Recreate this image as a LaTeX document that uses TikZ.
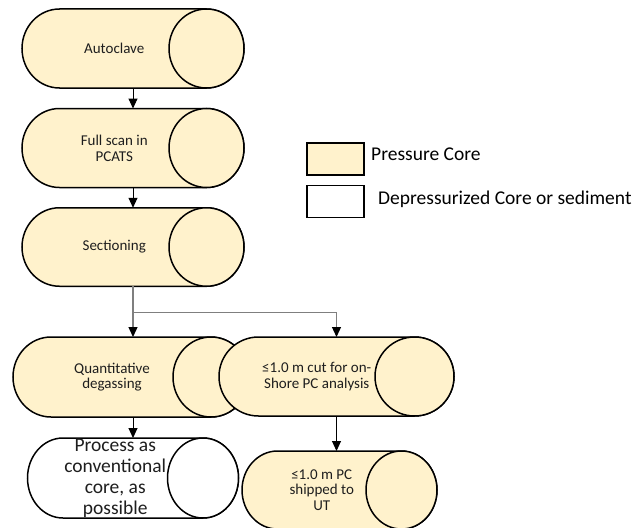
\documentclass[tikz,border=0pt]{standalone}
\usepackage{fontspec}
\setmainfont{Carlito}
\usetikzlibrary{calc,arrows.meta}

\definecolor{coreFill}{HTML}{FFF2CC}
\definecolor{linkGray}{RGB}{127,127,127}
\definecolor{inkText}{RGB}{30,30,30}

% Horizontal "can": rounded left cap, full ellipse at the right end.
% #1 name, #2 centre x, #3 centre y (downwards), #4 width, #5 height,
% #6 cap radius, #7 fill style, #8 text style, #9 text
\newcommand{\corecan}[9]{%
  \node[canframe, minimum width=#4pt, minimum height=#5pt] (#1) at (#2,-#3) {};
  \path[canline,#7] ($(#1.north west)+(#6,0)$) -- ($(#1.north east)-(#6,0)$)
     arc[start angle=90, end angle=-90, x radius=#6, y radius=#5/2]
     -- ($(#1.south west)+(#6,0)$)
     arc[start angle=270, end angle=90, x radius=#6, y radius=#5/2] -- cycle;
  \path[canline,#7] ($(#1.east)-(#6,0)$) ellipse[x radius=#6, y radius=#5/2];
  \node[#8] (#1-text) at ($(#1.center)+(-#6/2,0)$) {#9};
}

\tikzset{
  canframe/.style={draw=none, inner sep=0pt, outer sep=0pt},
  canline/.style={draw=black, line width=1.5pt},
  pressure/.style={fill=coreFill},
  depress/.style={fill=white},
  smalltext/.style={align=center, text=inkText, inner sep=0pt,
    font=\fontsize{15}{15.8}\selectfont},
  bigtext/.style={align=center, text=inkText, inner sep=0pt,
    font=\fontsize{19.5}{21}\selectfont},
  keytext/.style={anchor=base west, inner sep=0pt, text=black,
    font=\fontsize{19.5}{21}\selectfont},
  keybox/.style={draw=black, line width=1.5pt, minimum width=57pt,
    minimum height=32pt, inner sep=0pt},
  flow/.style={draw=black, line width=1pt, -{Triangle[length=10pt,width=9pt]}},
  branch/.style={draw=linkGray, line width=1.3pt,
    -{Triangle[length=10pt,width=9pt,color=black]}},
}

\begin{document}
\begin{tikzpicture}[x=1pt, y=1pt]
\useasboundingbox (0,0) rectangle (639,-527);

% main column
\corecan{autoclave}{133}{48.5}{222}{79}{37.5}{pressure}{smalltext}{Autoclave}
\corecan{scan}{133}{148}{222}{79}{37.5}{pressure}{smalltext}{Full scan in\\PCATS}
\corecan{section}{133}{247}{222}{78.5}{37.5}{pressure}{smalltext}{Sectioning}

% split after sectioning
\corecan{degas}{131}{377}{236}{80}{38}{pressure}{smalltext}{Quantitative\\degassing}
\corecan{cut}{336.5}{376.5}{235}{79}{39.5}{pressure}{smalltext}{≤1.0 m cut for on-\\Shore PC analysis}

% last row
\corecan{conv}{133}{478}{211}{80}{35.5}{depress}{bigtext}{Process as\\conventional\\core, as\\possible}
\corecan{ship}{339.5}{490}{195}{78}{35.5}{pressure}{smalltext}{≤1.0 m PC\\shipped to\\UT}

% connectors
\draw[flow] (autoclave.south) -- (scan.north);
\draw[flow] (scan.south) -- (section.north);
\coordinate (split) at ($(section.south)+(0,-26)$);
\draw[branch] (section.south) -- (section.south |- degas.north);
\draw[branch] (split) -| (cut.north);
\draw[flow] (conv.north |- degas.south) -- (conv.north);
\draw[flow] (cut.south) -- (cut.south |- ship.north);

% key
\node[keybox, fill=coreFill] (key-pressure) at (335.5,-159) {};
\node[keybox, fill=white] (key-depress) at (335.5,-201.5) {};
\node[keytext] (key-pressure-text) at (371,-160) {Pressure Core};
\node[keytext] (key-depress-text) at (378,-204) {Depressurized Core or sediment};
\end{tikzpicture}
\end{document}
